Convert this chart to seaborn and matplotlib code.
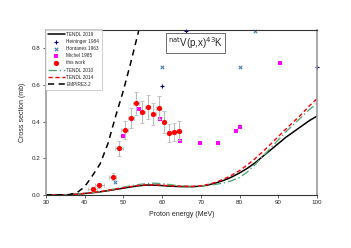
import numpy as np
import pandas as pd
import matplotlib
matplotlib.use("Agg")
import matplotlib.pyplot as plt
import seaborn as sns

# model curves
e_curve = [30, 34, 36, 38, 40, 42, 44, 46, 48, 50, 52, 54, 56, 58, 60, 62, 64, 66, 68, 70,
           72, 74, 76, 78, 80, 82, 84, 86, 88, 90, 92, 94, 96, 98, 100]
tendl2019 = [0, 0, 0.001, 0.004, 0.008, 0.012, 0.017, 0.023, 0.03, 0.037, 0.044, 0.05, 0.054,
             0.053, 0.051, 0.048, 0.046, 0.045, 0.045, 0.048, 0.055, 0.066, 0.08, 0.098, 0.12,
             0.145, 0.175, 0.21, 0.245, 0.28, 0.315, 0.345, 0.375, 0.405, 0.43]
tendl2014 = [0, 0, 0.001, 0.004, 0.008, 0.013, 0.018, 0.025, 0.032, 0.039, 0.046, 0.052, 0.055,
             0.055, 0.053, 0.05, 0.048, 0.047, 0.047, 0.05, 0.058, 0.07, 0.087, 0.108, 0.133,
             0.163, 0.198, 0.236, 0.276, 0.318, 0.36, 0.4, 0.44, 0.485, 0.525]
tendl2010 = [0, 0, 0.001, 0.004, 0.008, 0.013, 0.019, 0.026, 0.034, 0.042, 0.05, 0.057, 0.062,
             0.064, 0.061, 0.056, 0.051, 0.048, 0.047, 0.049, 0.052, 0.058, 0.066, 0.078, 0.095,
             0.125, 0.165, 0.21, 0.255, 0.3, 0.345, 0.385, 0.425, 0.465, 0.5]
e_empire = [30, 34, 36, 38, 40, 42, 44, 46, 48, 50, 52, 54, 56]
empire32 = [0, 0, 0.002, 0.012, 0.045, 0.105, 0.17, 0.28, 0.43, 0.57, 0.73, 0.9, 1.05]

# experimental data
e_this = [42.1, 43.8, 47.2, 48.9, 50.3, 52.0, 53.3, 54.9, 56.3, 57.7, 59.1, 60.4, 61.8, 63.1, 64.4]
s_this = [0.034, 0.052, 0.099, 0.254, 0.355, 0.42, 0.499, 0.452, 0.481, 0.441, 0.477, 0.40,
          0.339, 0.342, 0.351]
ds_this = [0.01, 0.012, 0.02, 0.04, 0.05, 0.055, 0.065, 0.06, 0.065, 0.06, 0.065, 0.06, 0.05, 0.05, 0.05]
de_this = [1.2, 1.2, 1.0, 1.0, 0.8, 0.8, 0.7, 0.7, 0.6, 0.6, 0.6, 0.5, 0.5, 0.5, 0.5]

e_michel = [49.8, 54.0, 59.5, 64.7, 69.7, 74.4, 79.0, 80.1, 90.4]
s_michel = [0.323, 0.467, 0.413, 0.292, 0.283, 0.283, 0.348, 0.369, 0.719]
e_heininger = [60.1, 66.3, 100.0]
s_heininger = [0.595, 0.897, 0.697]
e_hontanes = [47.9, 60.1, 80.1, 84.1]
s_hontanes = [0.07, 0.7, 0.7, 0.897]

sns.set_style("ticks")
plt.rcParams['font.family'] = ['Liberation Sans', 'DejaVu Sans']

fig = plt.figure(figsize=(3.51, 2.48), dpi=100)
ax = fig.add_axes([0.131, 0.214, 0.772, 0.665])

sns.lineplot(x=e_curve, y=tendl2019, color="black", lw=1.1, ax=ax, label="TENDL 2019")
sns.scatterplot(x=e_heininger, y=s_heininger, marker="+", color="navy", s=8, linewidth=0.8,
                ax=ax, label="Heininger 1984", clip_on=False)
sns.scatterplot(x=e_hontanes, y=s_hontanes, marker="x", color="steelblue", s=6, linewidth=0.8,
                ax=ax, label="Hontanes 1963", clip_on=False)
sns.scatterplot(x=e_michel, y=s_michel, marker="s", color="magenta", s=6, linewidth=0,
                ax=ax, label="Michel 1985")
ax.errorbar(e_this, s_this, yerr=ds_this, xerr=de_this, fmt="none", ecolor="#bbbbbb",
            elinewidth=0.8, capsize=1.2, capthick=0.6, zorder=2)
sns.scatterplot(x=e_this, y=s_this, marker="o", color="red", s=14, linewidth=0,
                ax=ax, label="this work", zorder=3)
sns.lineplot(x=e_curve, y=tendl2010, color="#5aa87a", lw=1.0, ax=ax, label="TENDL 2010",
             dashes=(6, 2, 1, 2))
sns.lineplot(x=e_curve, y=tendl2014, color="red", lw=1.0, ax=ax, label="TENDL 2014",
             dashes=(3, 2))
sns.lineplot(x=e_empire, y=empire32, color="black", lw=1.1, ax=ax, label="EMPIRE3.2",
             dashes=(4, 3))

ax.set_xlim(30, 100)
ax.set_ylim(0, 0.9)
ax.set_xticks(np.arange(30, 101, 10))
ax.set_yticks([0, 0.2, 0.4, 0.6, 0.8])
ax.set_yticklabels(["0.0", "0.2", "0.4", "0.6", "0.8"])
ax.tick_params(labelsize=4.5, length=2, width=0.5, pad=2)
ax.set_xlabel("Proton energy (MeV)", fontsize=5, labelpad=4)
ax.set_ylabel("Cross section (mb)", fontsize=5, labelpad=4)
for side in ["left", "right"]:
    ax.spines[side].set_color("#999999")
    ax.spines[side].set_linewidth(1.2)
for side in ["top", "bottom"]:
    ax.spines[side].set_color("#333333")
    ax.spines[side].set_linewidth(0.8)

ax.text(0.553, 0.92, r"$^{\mathrm{nat}}$V(p,x)$^{43}$K", transform=ax.transAxes, fontsize=7,
        ha="center", va="center",
        bbox=dict(boxstyle="square,pad=0.2", fc="white", ec="#555555", lw=0.6))

leg = ax.legend(loc="upper left", fontsize=3.4, frameon=True, borderpad=0.4,
                handlelength=3.6, labelspacing=0.45, handletextpad=0.3, borderaxespad=0)
leg.get_frame().set_edgecolor("#aaaaaa")
leg.get_frame().set_linewidth(0.5)
leg.get_frame().set_boxstyle("square")

fig.savefig("out.png", dpi=100)
